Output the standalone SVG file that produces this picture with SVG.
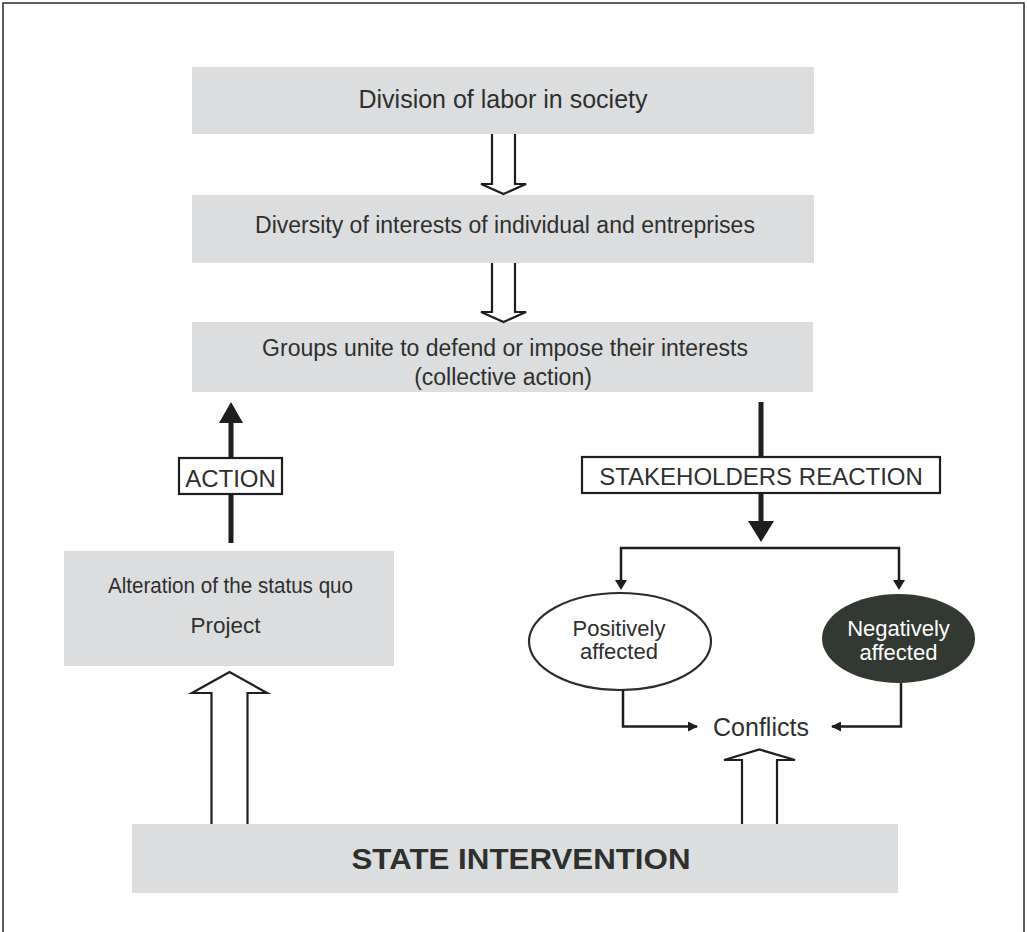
<svg xmlns="http://www.w3.org/2000/svg" width="1027" height="932" viewBox="0 0 1027 932">
  <style>
    .box { fill: #dcdddf; }
    .txt { font-family: "Liberation Sans", Arial, sans-serif; fill: #2e302e; text-anchor: middle; }
    .hollow { fill: #ffffff; stroke: #1e1e1e; stroke-width: 2.2; stroke-linejoin: miter; }
    .thick { stroke: #1e1e1e; stroke-width: 5; fill: none; }
    .thin { stroke: #1e1e1e; stroke-width: 2.5; fill: none; }
    .head { fill: #1e1e1e; }
    .label { fill: #ffffff; stroke: #1e1e1e; stroke-width: 2.2; }
  </style>
  <defs>
    <marker id="tip" markerWidth="10" markerHeight="10" refX="9" refY="5" orient="auto" markerUnits="userSpaceOnUse">
      <path d="M0,0 L10,5 L0,10 Z" class="head"/>
    </marker>
  </defs>

  <!-- page frame -->
  <rect x="3" y="3" width="1021" height="950" fill="#ffffff" stroke="#2a2a2a" stroke-width="1.5"/>

  <g id="division">
    <rect class="box" x="192" y="67" width="622" height="67"/>
    <text class="txt" x="503" y="108" font-size="25">Division of labor in society</text>
  </g>

  <g id="diversity">
    <rect class="box" x="192" y="195" width="622" height="68"/>
    <text class="txt" x="505" y="233" font-size="23">Diversity of interests of individual and entreprises</text>
  </g>

  <g id="groups">
    <rect class="box" x="192" y="322" width="621" height="70"/>
    <text class="txt" x="505" y="356" font-size="23">Groups unite to defend or impose their interests</text>
    <text class="txt" x="503" y="385" font-size="23">(collective action)</text>
  </g>

  <g id="alteration">
    <rect class="box" x="64" y="551" width="330" height="115"/>
    <text class="txt" x="230.5" y="593" font-size="21.5" textLength="245" lengthAdjust="spacingAndGlyphs">Alteration of the status quo</text>
    <text class="txt" x="225.5" y="633" font-size="22.5">Project</text>
  </g>

  <g id="positive">
    <ellipse cx="620" cy="641.5" rx="91" ry="48.5" fill="#ffffff" stroke="#2a2e2a" stroke-width="2.2"/>
    <text class="txt" x="619" y="636" font-size="22">Positively</text>
    <text class="txt" x="619" y="659" font-size="22">affected</text>
  </g>

  <g id="negative">
    <ellipse cx="898.5" cy="638.5" rx="76.5" ry="44.5" fill="#323832"/>
    <text class="txt" x="898.5" y="636" font-size="22" style="fill:#ffffff">Negatively</text>
    <text class="txt" x="898.5" y="660" font-size="22" style="fill:#ffffff">affected</text>
  </g>

  <g id="conflicts">
    <text class="txt" x="761" y="736" font-size="25">Conflicts</text>
  </g>

  <g id="state">
    <rect class="box" x="132" y="824" width="766" height="69"/>
    <text class="txt" x="521" y="869" font-size="29" font-weight="bold" textLength="339" lengthAdjust="spacingAndGlyphs">STATE INTERVENTION</text>
  </g>

  <g id="connectors">
    <!-- hollow block arrows -->
    <path class="hollow" d="M492,134 V184 H481 L503.5,194 L526,184 H515 V134"/>
    <path class="hollow" d="M492,263 V312 H481 L503.5,322 L526,312 H515 V263"/>
    <path class="hollow" d="M211.5,824 V693 H192 L229.5,672 L267,693 H247.5 V824"/>
    <path class="hollow" d="M742,824 V760 H724 L759.5,749.5 L795,760 H777 V824"/>

    <!-- action arrow -->
    <line class="thick" x1="231" y1="543" x2="231" y2="420"/>
    <polygon class="head" points="219,423 243,423 231,402"/>

    <!-- stakeholders reaction arrow -->
    <line class="thick" x1="761" y1="402" x2="761" y2="524"/>
    <polygon class="head" points="748,521 774,521 761,542"/>

    <!-- split to both groups -->
    <path class="thin" d="M621,582 V548 H899 V582"/>
    <polygon class="head" points="615,580 627,580 621,590"/>
    <polygon class="head" points="893,580 905,580 899,590"/>

    <!-- affected groups into conflicts -->
    <path class="thin" d="M623,690 V726.5 H697" marker-end="url(#tip)"/>
    <path class="thin" d="M901,683 V726.5 H832" marker-end="url(#tip)"/>
  </g>

  <g id="action-label">
    <rect class="label" x="179" y="458" width="103" height="36"/>
    <text class="txt" x="230.5" y="487" font-size="24">ACTION</text>
  </g>

  <g id="reaction-label">
    <rect class="label" x="582" y="457" width="358" height="36"/>
    <text class="txt" x="761" y="485" font-size="24">STAKEHOLDERS REACTION</text>
  </g>
</svg>
